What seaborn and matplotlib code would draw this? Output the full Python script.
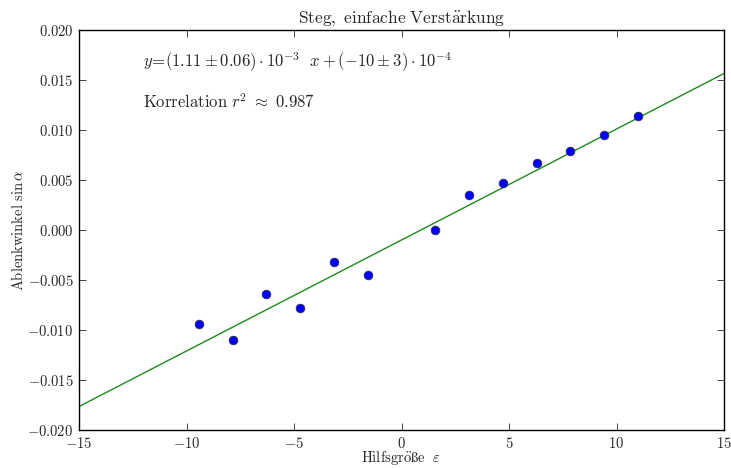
import numpy as np
import pandas as pd
import matplotlib
matplotlib.use("Agg")
import matplotlib.pyplot as plt
import seaborn as sns

# data
k_values = [-6, -5, -4, -3, -2, -1, 1, 2, 3, 4, 5, 6, 7]
x_values = [k * np.pi / 2 for k in k_values]
y_values = [-0.00935, -0.01104, -0.00637, -0.00776, -0.00318, -0.00448,
            0.0000, 0.00348, 0.00468, 0.00667, 0.00786, 0.00945, 0.01144]
fit_slope = 1.11e-3
fit_intercept = -10e-4
x_ticks = [-15, -10, -5, 0, 5, 10, 15]
y_ticks = [-0.020, -0.015, -0.010, -0.005, 0.000, 0.005, 0.010, 0.015, 0.020]

sns.set_style("ticks")
plt.rcParams['font.family'] = ['cmr10', 'DejaVu Serif']
plt.rcParams['mathtext.fontset'] = 'cm'
plt.rcParams['axes.formatter.use_mathtext'] = True
plt.rcParams['axes.unicode_minus'] = True

fig = plt.figure(figsize=(7.31, 4.68), dpi=100)
ax = fig.add_axes([79 / 731, 1 - 430 / 468, (724 - 79) / 731, (430 - 30) / 468])

line_x = [x_ticks[0], x_ticks[-1]]
line_df = pd.DataFrame({"x": line_x, "y": [fit_slope * v + fit_intercept for v in line_x]})
sns.lineplot(data=line_df, x="x", y="y", ax=ax, color=(0.1, 0.55, 0.1), linewidth=1.0, zorder=1)

df = pd.DataFrame({"x": x_values, "y": y_values})
sns.scatterplot(data=df, x="x", y="y", ax=ax, color="#0000ff", s=40,
                edgecolor="#333333", linewidth=0.5, zorder=3)

ax.set_xlim(-15, 15)
ax.set_ylim(-0.02, 0.02)
ax.set_xticks(x_ticks)
ax.set_yticks(y_ticks)
ax.set_xticklabels([f"${v}$" for v in x_ticks])
ax.set_yticklabels([f"${v:.3f}$" for v in y_ticks])
ax.tick_params(direction="in", top=True, right=True, length=5, width=0.6,
               labelsize=10.5, pad=4)
for s in ax.spines.values():
    s.set_linewidth(1.0)
    s.set_color("black")

ax.set_title(r"$\mathrm{Steg,\ einfache\ Verst\ddot{a}rkung}$", fontsize=12.5, pad=5)
ax.set_xlabel(r"$\mathrm{Hilfsgr\ddot{o}\ss e}\ \ \varepsilon$", fontsize=10.5, labelpad=-1)
ax.set_ylabel(r"$\mathrm{Ablenkwinkel}\ \sin\alpha$", fontsize=10.5, labelpad=1)

ax.text(0.099, 0.92, r"$y\!=\!(1.11\pm0.06)\cdot10^{-3}\ \ x+(-10\pm3)\cdot10^{-4}$",
        transform=ax.transAxes, fontsize=12, va="center")
ax.text(0.099, 0.82, r"$\mathrm{Korrelation}\ r^2\ \approx\ 0.987$",
        transform=ax.transAxes, fontsize=12, va="center")

fig.savefig("out.png", dpi=100)
